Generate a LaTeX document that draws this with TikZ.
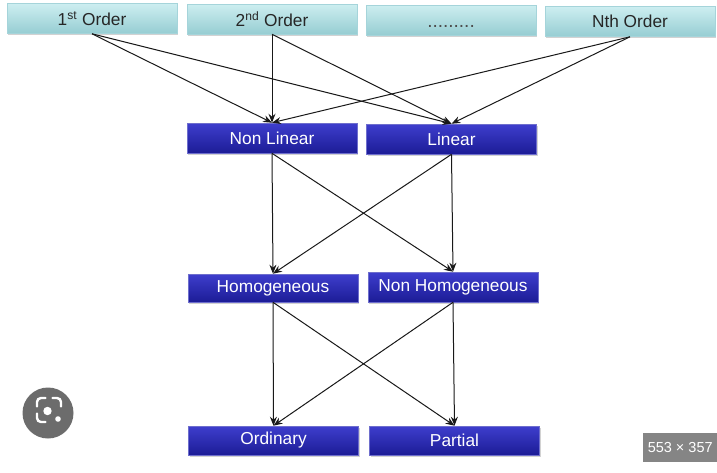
\documentclass[tikz,border=0pt]{standalone}
\usepackage{fontspec}
\setmainfont{Liberation Sans}
\usetikzlibrary{arrows.meta,shadows}
\definecolor{cyantop}{RGB}{205,238,240}
\definecolor{cyanbot}{RGB}{150,205,210}
\definecolor{cyanedge}{RGB}{165,212,218}
\definecolor{bluetop}{RGB}{62,62,205}
\definecolor{bluebot}{RGB}{28,28,150}
\definecolor{blueedge}{RGB}{110,110,205}
\definecolor{linecol}{RGB}{25,25,25}
\definecolor{lensgray}{RGB}{108,108,108}
\definecolor{badgegray}{RGB}{120,120,120}
\tikzset{
  topbox/.style={draw=cyanedge, line width=0.6pt, top color=cyantop, bottom color=cyanbot,
    minimum width=170pt, minimum height=30pt, inner sep=0pt,
    font=\fontsize{17.3}{20}\selectfont, text=black!85,
    drop shadow={opacity=0.35, shadow xshift=1pt, shadow yshift=-1.5pt}},
  bluebox/.style={draw=blueedge, line width=0.6pt, top color=bluetop, bottom color=bluebot,
    minimum width=170pt, minimum height=30pt, inner sep=0pt,
    font=\fontsize{17.3}{20}\selectfont, text=white,
    drop shadow={opacity=0.35, shadow xshift=1pt, shadow yshift=-1.5pt}},
  conn/.style={draw=linecol, line width=1pt, -{Stealth[length=9pt,width=7pt,inset=3pt]}}
}
\begin{document}
\begin{tikzpicture}[x=1pt,y=-1pt]
\fill[white] (0,0) rectangle (717,472);
\useasboundingbox (0,0) rectangle (717,472);

% top row
\node[topbox] (o1) at (92,18.5) {1\textsuperscript{st} Order};
\node[topbox] (o2) at (272,19) {2\textsuperscript{nd} Order};
\node[topbox] (o3) at (451,20) {\smash{\raisebox{-7pt}{\fontsize{19}{20}\selectfont\color{black!70} .........}}};
\node[topbox] (o4) at (630,21.5) {Nth Order};

% row 1
\node[bluebox] (nl) at (272,138) {Non Linear};
\node[bluebox] (li) at (451.5,139) {Linear};

% row 2
\node[bluebox, minimum height=28pt] (ho) at (273,288) {Homogeneous};
\node[bluebox] (nh) at (453,287) {Non Homogeneous};

% row 3
\node[bluebox, minimum height=29pt] (od) at (273.5,440.5) {Ordinary};
\node[bluebox, minimum height=29pt] (pa) at (454.5,440.5) {Partial};

% connectors top -> row1
\foreach \s in {o1,o2,o4}{
  \draw[conn] (\s.south) -- (nl.north);
  \draw[conn] (\s.south) -- (li.north);
}
% row1 -> row2
\foreach \s in {nl,li}{
  \draw[conn] (\s.south) -- (ho.north);
  \draw[conn] (\s.south) -- (nh.north);
}
% row2 -> row3
\foreach \s in {ho,nh}{
  \draw[conn] (\s.south) -- (od.north);
  \draw[conn] (\s.south) -- (pa.north);
}

% lens icon overlay
\node[circle, fill=lensgray, minimum size=51pt, inner sep=0pt] (lens) at (48,413) {};
\begin{scope}[shift={(49,410)}, line width=2.4pt, line cap=round]
  \draw[white] (-12,-3.5) -- (-12,-8) arc[start angle=180, end angle=270, radius=4] -- (-3.5,-12);
  \draw[white] (3.5,-12) -- (8,-12) arc[start angle=270, end angle=360, radius=4] -- (12,-3.5);
  \draw[white] (-12,3.5) -- (-12,8) arc[start angle=180, end angle=90, radius=4] -- (-3.5,12);
  \fill[white] (-1.5,1) circle[radius=4.2];
  \fill[white] (9,9) circle[radius=2.8];
\end{scope}

% size badge overlay
\node[fill=badgegray, fill opacity=0.9, text opacity=1, text=white, minimum width=74pt, minimum height=29pt, inner sep=0pt,
  font=\fontsize{14.5}{17}\selectfont, anchor=north west] (badge) at (643,433) {553 × 357};
\end{tikzpicture}
\end{document}
